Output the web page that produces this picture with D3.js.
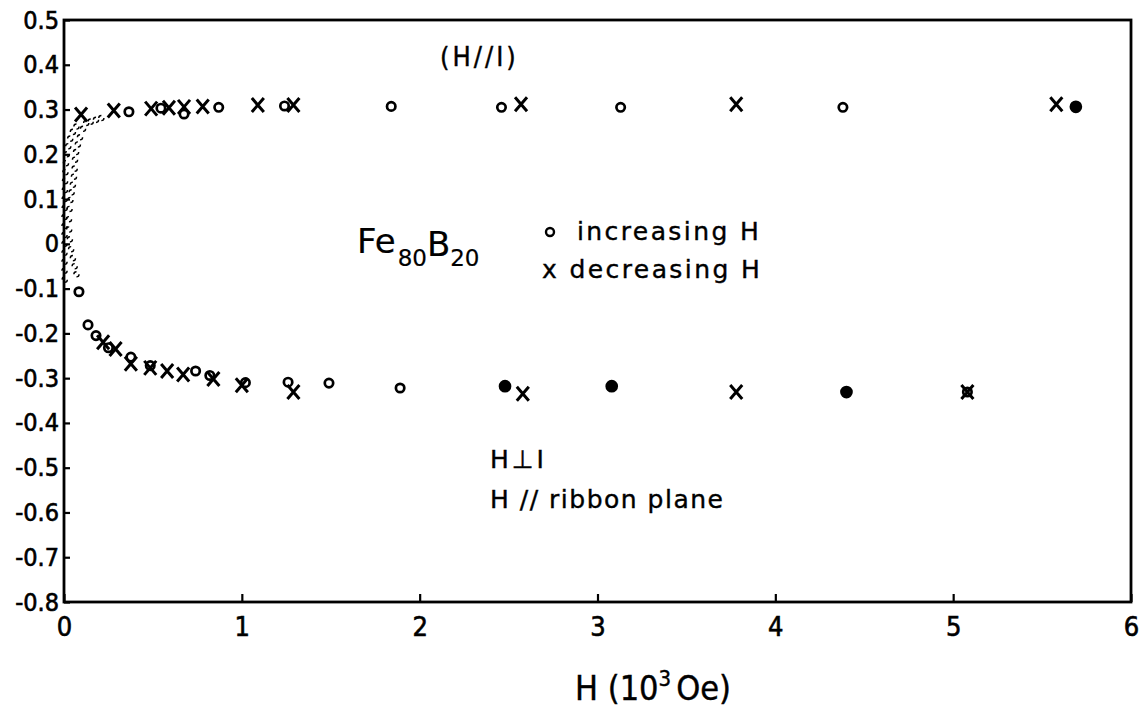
<!DOCTYPE html>
<html>
<head>
<meta charset="utf-8">
<script src="https://cdn.jsdelivr.net/npm/d3@7/dist/d3.min.js"></script>
<style>
  html, body { margin: 0; padding: 0; background: #fff; }
  svg { display: block; }
  .tick text { font-family: "DejaVu Sans Condensed", "DejaVu Sans", sans-serif; fill: #000; stroke: #000; stroke-width: 0.6; }
  .note { font-family: "DejaVu Sans", sans-serif; fill: #000; stroke: #000; stroke-width: 0.4; }
  .cond { font-family: "DejaVu Sans Condensed", "DejaVu Sans", sans-serif; }
</style>
</head>
<body>
<svg id="chart" width="1145" height="710"></svg>
<script>
// Fe80B20 ribbon: signal vs applied field H (10^3 Oe)

// axis ticks
const xTicks = [0, 1, 2, 3, 4, 5, 6];
const xTickLabels = ["0", "1", "2", "3", "4", "5", "6"];
const yTicks = [-0.8, -0.7, -0.6, -0.5, -0.4, -0.3, -0.2, -0.1, 0, 0.1, 0.2, 0.3, 0.4, 0.5];
const yTickLabels = ["-0.8", "-0.7", "-0.6", "-0.5", "-0.4", "-0.3", "-0.2", "-0.1", "0", "0.1", "0.2", "0.3", "0.4", "0.5"];

// low-field sweep near H = 0 (densely sampled): inner and outer traces of the loop
const lowFieldAH = [0.004, 0.003, 0.003, 0.003, 0.003, 0.003, 0.003, 0.003, 0.004, 0.004, 0.005, 0.006, 0.008, 0.011, 0.016, 0.024, 0.035, 0.05, 0.07];
const lowFieldAV = [-0.08, -0.06, -0.04, -0.02, 0.0, 0.02, 0.04, 0.06, 0.08, 0.10, 0.12, 0.14, 0.16, 0.18, 0.20, 0.218, 0.235, 0.25, 0.262];
const lowFieldBH = [0.21, 0.18, 0.15, 0.125, 0.107, 0.09, 0.078, 0.068, 0.062, 0.06, 0.056, 0.05, 0.043, 0.036, 0.031, 0.028, 0.029, 0.033, 0.04, 0.05, 0.06, 0.07];
const lowFieldBV = [0.281, 0.277, 0.273, 0.27, 0.257, 0.238, 0.222, 0.205, 0.188, 0.168, 0.15, 0.132, 0.115, 0.098, 0.078, 0.055, 0.032, 0.01, -0.012, -0.032, -0.05, -0.068];

// H // I, increasing H (circles) and decreasing H (crosses)
const parIncH = [0.365, 0.545, 0.675, 0.87, 1.24, 1.84, 2.46, 3.13, 4.38, 5.69];
const parIncV = [0.295, 0.303, 0.29, 0.305, 0.308, 0.307, 0.305, 0.305, 0.305, 0.306];
const parDecH = [0.096, 0.28, 0.49, 0.59, 0.675, 0.78, 1.09, 1.29, 2.57, 3.78, 5.58];
const parDecV = [0.289, 0.298, 0.302, 0.304, 0.306, 0.307, 0.31, 0.31, 0.312, 0.312, 0.312];

// H perpendicular to I, H // ribbon plane
const perpIncH = [0.084, 0.135, 0.18, 0.25, 0.376, 0.485, 0.74, 0.82, 1.02, 1.26, 1.49, 1.89, 2.48, 3.08, 4.40, 5.08];
const perpIncV = [-0.107, -0.181, -0.205, -0.232, -0.253, -0.272, -0.284, -0.294, -0.31, -0.309, -0.311, -0.322, -0.318, -0.318, -0.331, -0.331];
const perpDecH = [0.22, 0.29, 0.376, 0.485, 0.58, 0.67, 0.84, 1.0, 1.29, 2.58, 3.78, 5.08];
const perpDecV = [-0.22, -0.235, -0.268, -0.277, -0.284, -0.292, -0.302, -0.316, -0.331, -0.335, -0.331, -0.331];

// circles that came out as solid ink dots
const solidPar = [5.69];
const solidPerp = [2.48, 3.08, 4.40];

const zip = (hs, vs) => hs.map((h, i) => ({ h, v: vs[i] }));

const svg = d3.select("#chart");
const x = d3.scaleLinear().domain([0, 6]).range([64, 1131]);
const y = d3.scaleLinear().domain([-0.8, 0.5]).range([602, 20]);

// axes with inward ticks
const gx = svg.append("g")
  .attr("transform", `translate(0,${y(-0.8)})`)
  .call(d3.axisBottom(x).tickValues(xTicks).tickSize(-8).tickSizeOuter(0).tickPadding(15)
    .tickFormat((d, i) => xTickLabels[i]));
gx.selectAll(".tick text").attr("font-size", 27);

const gy = svg.append("g")
  .attr("transform", `translate(${x(0)},0)`)
  .call(d3.axisLeft(y).tickValues(yTicks).tickSize(-6).tickSizeOuter(0).tickPadding(5)
    .tickFormat((d, i) => yTickLabels[i]));
gy.selectAll(".tick text").attr("font-size", 25);

[gx, gy].forEach(g => {
  g.selectAll(".tick line").attr("stroke", "#000").attr("stroke-width", 2.2);
  g.select(".domain").remove();
});

// plot frame
svg.append("rect")
  .attr("x", x(0)).attr("y", y(0.5))
  .attr("width", x(6) - x(0)).attr("height", y(-0.8) - y(0.5))
  .attr("fill", "none").attr("stroke", "#000").attr("stroke-width", 2.8);

const marks = svg.append("g");

// densely sampled low-field points: small thin circles that merge into dashed traces
marks.selectAll("circle.low")
  .data(zip(lowFieldAH, lowFieldAV).concat(zip(lowFieldBH, lowFieldBV)))
  .join("circle")
  .attr("class", "low")
  .attr("cx", d => x(d.h)).attr("cy", d => y(d.v))
  .attr("r", 2.6)
  .attr("fill", "none").attr("stroke", "#000").attr("stroke-width", 1.4)
  .attr("stroke-dasharray", "4 4");

function drawCircles(data, solid) {
  marks.append("g").selectAll("circle")
    .data(data)
    .join("circle")
    .attr("cx", d => x(d.h)).attr("cy", d => y(d.v))
    .attr("r", d => solid.includes(d.h) ? 5 : 4.2)
    .attr("fill", d => solid.includes(d.h) ? "#000" : "#fff")
    .attr("stroke", "#000").attr("stroke-width", 2.7);
}

function drawCrosses(data) {
  marks.append("g").selectAll("path")
    .data(data)
    .join("path")
    .attr("transform", d => `translate(${x(d.h)},${y(d.v)})`)
    .attr("d", "M-6,-7L6,7M6,-7L-6,7")
    .attr("fill", "none").attr("stroke", "#000").attr("stroke-width", 3);
}

drawCircles(zip(parIncH, parIncV), solidPar);
drawCircles(zip(perpIncH, perpIncV), solidPerp);
drawCrosses(zip(parDecH, parDecV));
drawCrosses(zip(perpDecH, perpDecV));

// annotations
const note = (txt, px, py, size, ls) => svg.append("text")
  .attr("class", "note").attr("x", px).attr("y", py)
  .attr("font-size", size).attr("letter-spacing", ls || 0).text(txt);

note("(H//I)", 440, 66, 27, 3).classed("cond", true);

const formula = svg.append("text").attr("class", "note").attr("x", 357).attr("y", 253)
  .attr("font-size", 34).style("stroke-width", 0.2);
formula.append("tspan").text("Fe");
formula.append("tspan").attr("font-size", 23).attr("dy", 13).attr("dx", 2).text("80");
formula.append("tspan").attr("dy", -10).text("B");
formula.append("tspan").attr("font-size", 23).attr("dy", 10).text("20");

svg.append("circle").attr("cx", 550).attr("cy", 232).attr("r", 4)
  .attr("fill", "none").attr("stroke", "#000").attr("stroke-width", 2.4);
note("increasing H", 577, 240, 25, 2.4);
note("x decreasing H", 542, 278, 25, 2.4);

note("H\u22A5I", 490, 468, 25, 3);
note("H // ribbon plane", 490, 508, 25, 1.5);

const title = svg.append("text").attr("class", "note cond").attr("x", 575).attr("y", 700).attr("font-size", 34);
title.append("tspan").text("H (10");
title.append("tspan").attr("font-size", 22).attr("dy", -14).text("3");
title.append("tspan").attr("dy", 14).attr("dx", 5).text("Oe)");
</script>
</body>
</html>
